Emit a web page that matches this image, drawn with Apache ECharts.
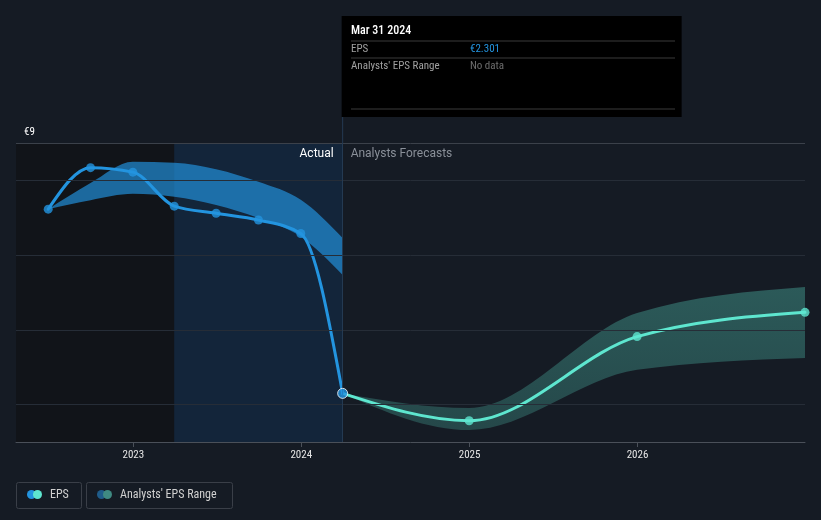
<!DOCTYPE html>
<html>
<head>
<meta charset="utf-8">
<script src="https://cdn.jsdelivr.net/npm/echarts@6/dist/echarts.min.js"></script>
<style>
html,body{margin:0;padding:0;background:#151b24;}
#chart{width:821px;height:520px;}
</style>
</head>
<body>
<div id="chart"></div>
<script>
// ---- data ----
var actualDates = ['2022-06-30','2022-09-30','2022-12-31','2023-03-31','2023-06-30','2023-09-30','2023-12-31','2024-03-31'];
var actualEps   = [7.23, 8.34, 8.22, 7.31, 7.12, 6.94, 6.58, 2.301];
var pastRangeLow  = [7.23, 7.47, 7.64, 7.56, 7.34, 6.99, 6.49, 5.47];
var pastRangeHigh = [7.23, 7.93, 8.50, 8.47, 8.30, 7.96, 7.48, 6.46];

var forecastDates = ['2024-03-31','2024-12-31','2025-12-31','2026-12-31'];
var forecastEps   = [2.301, 1.57, 3.82, 4.47];
var forecastLow   = [2.301, 1.32, 2.93, 3.25];
var forecastHigh  = [2.301, 1.91, 4.45, 5.15];

var yearTicks = [2023, 2024, 2025, 2026];
var yLabels = [1, 9];
var gridValues = [2, 4, 6, 8];

var xMinDate = '2022-04-21', xMaxDate = '2026-12-31';
var shadeStartDate = '2023-03-31', nowDateStr = '2024-03-31';

// ---- helpers ----
function ts(s){ var p = s.split('-'); return new Date(+p[0], +p[1]-1, +p[2]).getTime(); }
function pairs(d, v){ return d.map(function(x,i){ return [ts(x), v[i]]; }); }
var tickTimes = yearTicks.map(function(y){ return new Date(y,0,1).getTime(); });
var xMin = ts(xMinDate), xMax = ts(xMaxDate), shadeStart = ts(shadeStartDate), nowDate = ts(nowDateStr);

// monotone-x cubic segments (d3 curveMonotoneX) in pixel space
function sgn(x){ return x < 0 ? -1 : 1; }
function monoSegments(P){
  var n = P.length, t = new Array(n), i;
  if (n < 2) return [];
  var s = [];
  for (i = 0; i < n-1; i++) s.push((P[i+1][1]-P[i][1])/(P[i+1][0]-P[i][0]));
  for (i = 1; i < n-1; i++){
    var h0 = P[i][0]-P[i-1][0], h1 = P[i+1][0]-P[i][0];
    var s0 = s[i-1], s1 = s[i], p = (s0*h1 + s1*h0)/(h0+h1);
    t[i] = (sgn(s0)+sgn(s1))*Math.min(Math.abs(s0), Math.abs(s1), 0.5*Math.abs(p)) || 0;
  }
  if (n === 2){ t[0] = s[0]; t[1] = s[0]; }
  else {
    t[0] = (3*s[0] - t[1])/2;
    t[n-1] = (3*s[n-2] - t[n-2])/2;
  }
  var segs = [];
  for (i = 0; i < n-1; i++){
    var dx = (P[i+1][0]-P[i][0])/3;
    segs.push([P[i], [P[i][0]+dx, P[i][1]+dx*t[i]], [P[i+1][0]-dx, P[i+1][1]-dx*t[i+1]], P[i+1]]);
  }
  return segs;
}
function f(v){ return v.toFixed(2); }
function linePath(P){
  var segs = monoSegments(P), d = 'M' + f(P[0][0]) + ' ' + f(P[0][1]);
  segs.forEach(function(g){ d += ' C' + f(g[1][0]) + ' ' + f(g[1][1]) + ' ' + f(g[2][0]) + ' ' + f(g[2][1]) + ' ' + f(g[3][0]) + ' ' + f(g[3][1]); });
  return d;
}
function bandPath(U, L){
  var d = linePath(U);
  var segs = monoSegments(L);
  d += ' L' + f(L[L.length-1][0]) + ' ' + f(L[L.length-1][1]);
  for (var i = segs.length-1; i >= 0; i--){
    var g = segs[i];
    d += ' C' + f(g[2][0]) + ' ' + f(g[2][1]) + ' ' + f(g[1][0]) + ' ' + f(g[1][1]) + ' ' + f(g[0][0]) + ' ' + f(g[0][1]);
  }
  return d + ' Z';
}

var FONT = '"Roboto Condensed","Liberation Sans Narrow",Roboto,sans-serif';
var BLUE = '#2394df', TEAL = '#5ee6cf';

function lineSeries(dates, vals, color, z){
  var pts = pairs(dates, vals);
  return {type: 'custom', data: pts, encode: {x: 0, y: 1}, silent: true, z: z, clip: false,
    renderItem: function(params, api){
      if (params.dataIndex !== 0) return null;
      var P = pts.map(function(p){ return api.coord(p); });
      return {type: 'path', shape: {pathData: linePath(P)},
        style: {fill: 'none', stroke: color, lineWidth: 3, lineJoin: 'round', lineCap: 'round'}};
    }};
}
function bandSeries(dates, lo, hi, fill, z){
  var up = pairs(dates, hi), dn = pairs(dates, lo);
  return {type: 'custom', data: up.concat(dn), encode: {x: 0, y: 1}, silent: true, z: z,
    renderItem: function(params, api){
      if (params.dataIndex !== 0) return null;
      var U = up.map(function(p){ return api.coord(p); });
      var L = dn.map(function(p){ return api.coord(p); });
      return {type: 'path', shape: {pathData: bandPath(U, L)}, style: {fill: fill}};
    }};
}

var chart = echarts.init(document.getElementById('chart'));
var option = {
  backgroundColor: '#151b24',
  animation: false,
  grid: {left: 16, right: 16, top: 143, bottom: 78},
  xAxis: {
    type: 'value', min: xMin, max: xMax,
    axisLine: {show: true, lineStyle: {color: '#4a5059', width: 1}},
    axisTick: {show: true, customValues: tickTimes, length: 5, lineStyle: {color: '#4a5059'}},
    axisLabel: {customValues: tickTimes, color: '#e6e6e6', fontSize: 11, fontFamily: FONT, margin: 8,
      formatter: function(v){ return String(new Date(v).getFullYear()); }},
    splitLine: {show: false}
  },
  yAxis: {
    type: 'value', min: 1, max: 9,
    axisLine: {show: false}, axisTick: {show: false},
    splitLine: {show: false},
    axisLabel: {customValues: yLabels, inside: true, margin: 8, color: '#ffffff', fontSize: 11, fontFamily: FONT,
      verticalAlign: 'bottom', padding: [0,0,5,0],
      formatter: function(v){ return '€' + v; }}
  },
  series: [
    { // background shading
      type: 'line', data: pairs(actualDates, actualEps), symbol: 'none',
      lineStyle: {opacity: 0}, silent: true, z: 0,
      markArea: {silent: true, data: [
        [{xAxis: xMin, itemStyle: {color: '#111419'}}, {xAxis: shadeStart}],
        [{xAxis: shadeStart, itemStyle: {color: '#13253a'}}, {xAxis: nowDate}]
      ]}
    },
    { // gridlines
      type: 'line', data: [], silent: true, z: 1,
      markLine: {silent: true, symbol: 'none', label: {show: false},
        lineStyle: {color: '#262d37', width: 1, type: 'solid'},
        data: gridValues.map(function(v){ return {yAxis: v}; }).concat([{yAxis: 9, lineStyle: {color: '#3b414a'}}])
      }
    },
    { // now line
      type: 'line', data: [], silent: true, z: 1,
      markLine: {silent: true, symbol: 'none', label: {show: false},
        lineStyle: {color: '#243a52', width: 1, type: 'solid'},
        data: [{xAxis: nowDate}]}
    },
    bandSeries(actualDates, pastRangeLow, pastRangeHigh, 'rgba(35,148,223,0.67)', 2),
    bandSeries(forecastDates, forecastLow, forecastHigh,
      {type: 'linear', x: 0, y: 0, x2: 0, y2: 1, colorStops: [
        {offset: 0, color: 'rgba(94,230,207,0.31)'}, {offset: 1, color: 'rgba(94,230,207,0.22)'}]}, 2),
    lineSeries(forecastDates, forecastEps, TEAL, 3),
    lineSeries(actualDates, actualEps, BLUE, 4),
    { type: 'scatter', data: pairs(forecastDates.slice(1), forecastEps.slice(1)), symbolSize: 9,
      itemStyle: {color: TEAL}, silent: true, z: 5 },
    { type: 'scatter', data: pairs(actualDates.slice(0, -1), actualEps.slice(0, -1)), symbolSize: 9,
      itemStyle: {color: BLUE}, silent: true, z: 5 },
    { type: 'scatter', data: pairs(actualDates.slice(-1), actualEps.slice(-1)), symbolSize: 10,
      itemStyle: {color: BLUE, borderColor: '#ffffff', borderWidth: 1}, silent: true, z: 6 }
  ]
};
chart.setOption(option);

var nowX = chart.convertToPixel({xAxisIndex: 0}, nowDate);
var TX = 351;
chart.setOption({
  graphic: [
    {type: 'line', shape: {x1: nowX, y1: 117, x2: nowX, y2: 143}, style: {stroke: '#243a52', lineWidth: 1}, z: 10},
    {type: 'text', style: {text: 'Actual', x: nowX - 9, y: 154, align: 'right', verticalAlign: 'middle',
      fill: '#ffffff', font: '12px Roboto, sans-serif'}, z: 10},
    {type: 'text', style: {text: 'Analysts Forecasts', x: nowX + 8, y: 154, align: 'left', verticalAlign: 'middle',
      fill: '#8a9099', font: '12px Roboto, sans-serif'}, z: 10},
    // tooltip box
    {type: 'rect', shape: {x: nowX - 1, y: 16, width: 340, height: 101}, style: {fill: '#000000'}, z: 20},
    {type: 'text', style: {text: 'Mar 31 2024', x: TX, y: 31, verticalAlign: 'middle', fill: '#ffffff',
      font: '500 12px ' + FONT}, z: 21},
    {type: 'line', shape: {x1: TX, y1: 41, x2: 675, y2: 41}, style: {stroke: '#3a3a3a', lineWidth: 1}, z: 21},
    {type: 'text', style: {text: 'EPS', x: TX, y: 49, verticalAlign: 'middle', fill: '#a0a0a0', font: '11px ' + FONT}, z: 21},
    {type: 'text', style: {text: '€2.301', x: 470, y: 49, verticalAlign: 'middle', fill: BLUE, font: '11px ' + FONT}, z: 21},
    {type: 'line', shape: {x1: TX, y1: 58, x2: 675, y2: 58}, style: {stroke: '#3a3a3a', lineWidth: 1}, z: 21},
    {type: 'text', style: {text: "Analysts' EPS Range", x: TX, y: 66.5, verticalAlign: 'middle', fill: '#a0a0a0', font: '11px ' + FONT}, z: 21},
    {type: 'text', style: {text: 'No data', x: 470, y: 66.5, verticalAlign: 'middle', fill: '#6e6e6e', font: '11px ' + FONT}, z: 21},
    {type: 'line', shape: {x1: TX, y1: 109, x2: 675, y2: 109}, style: {stroke: '#3a3a3a', lineWidth: 1}, z: 21},
    // legend
    {type: 'rect', shape: {x: 16.5, y: 482.5, width: 65, height: 26, r: 2}, style: {fill: 'none', stroke: '#3a3f48', lineWidth: 1}, z: 20},
    {type: 'circle', shape: {cx: 31.5, cy: 494.5, r: 4.5}, style: {fill: BLUE}, z: 21},
    {type: 'circle', shape: {cx: 37.5, cy: 494.5, r: 4.5}, style: {fill: TEAL}, z: 22},
    {type: 'text', style: {text: 'EPS', x: 50, y: 495, verticalAlign: 'middle', fill: '#d0d0d0', font: '12px ' + FONT}, z: 21},
    {type: 'rect', shape: {x: 86.5, y: 482.5, width: 146, height: 26, r: 2}, style: {fill: 'none', stroke: '#3a3f48', lineWidth: 1}, z: 20},
    {type: 'circle', shape: {cx: 101.5, cy: 494.5, r: 4.5}, style: {fill: '#1f5c8a'}, z: 21},
    {type: 'circle', shape: {cx: 107.5, cy: 494.5, r: 4.5}, style: {fill: '#3f8a82'}, z: 22},
    {type: 'text', style: {text: "Analysts' EPS Range", x: 120, y: 495, verticalAlign: 'middle', fill: '#d0d0d0', font: '12px ' + FONT}, z: 21}
  ]
});
</script>
</body>
</html>
